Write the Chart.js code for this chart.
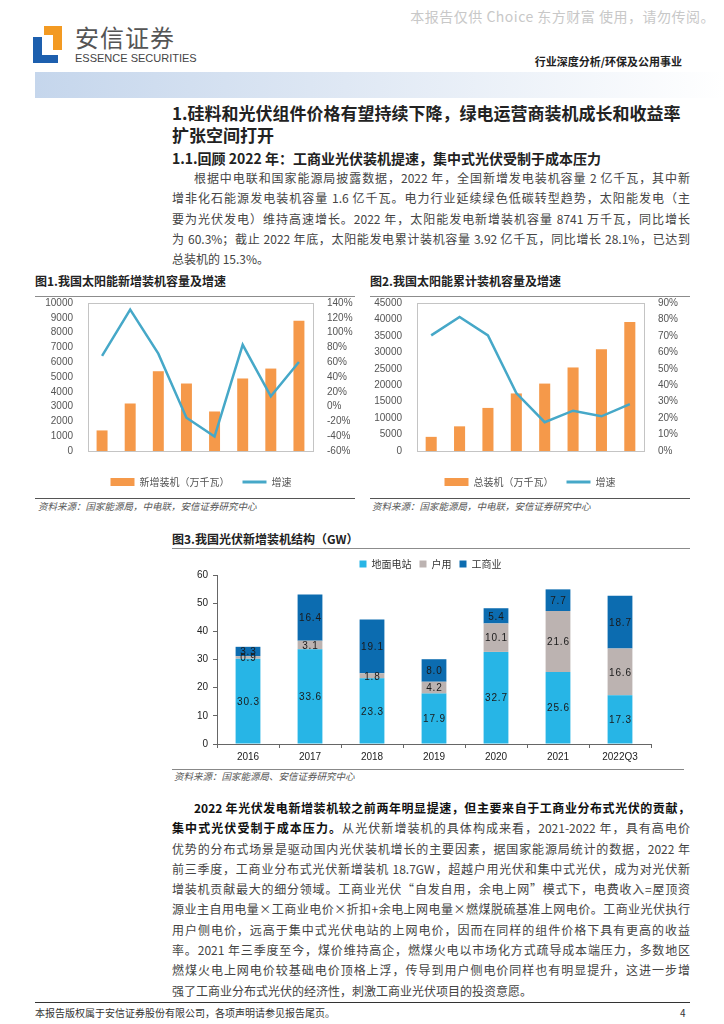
<!DOCTYPE html>
<html lang="zh-CN">
<head>
<meta charset="UTF-8">
<title>安信证券 行业深度分析</title>
<script src="https://cdn.jsdelivr.net/npm/chart.js"></script>
<style>
  body { margin:0; background:#fff; font-family:"Noto Sans CJK SC", sans-serif; color:#3a3a3a; }
  .page { position:relative; width:724px; height:1024px; overflow:hidden; background:#fff; }
  .abs { position:absolute; white-space:nowrap; }
  .wm { right:9px; top:6px; font-size:14px; color:#c8c8c8; letter-spacing:0.5px; }
  .brand { left:75px; top:22px; font-size:24px; color:#555; letter-spacing:1px; line-height:30px; }
  .brand-en { left:75px; top:51px; font-family:"Liberation Sans Narrow","Liberation Sans",sans-serif; font-size:11px; color:#444; line-height:14px; }
  .sector { right:42px; top:53px; font-size:11px; font-weight:bold; color:#222; line-height:16px; }
  .banner { left:35px; top:72px; width:689px; height:26px; background:linear-gradient(to right,#c5d6ec 0%,#dfe8f4 45%,#ffffff 100%); }
  .h1 { left:172px; font-size:17px; font-weight:bold; color:#222; line-height:22px; }
  .h2 { left:172px; top:147px; font-size:14px; font-weight:bold; color:#222; line-height:22px; }
  .para { position:absolute; left:172px; width:518px; font-size:12px; color:#444; }
  .para div { height:20.3px; line-height:20.3px; text-align:justify; text-align-last:justify; white-space:nowrap; }
  .para div.first { padding-left:22px; }
  .para div.last { text-align-last:left; }
  .para b { color:#111; }
  .figt { font-size:12px; font-weight:bold; color:#222; line-height:16px; }
  .rule { position:absolute; height:0; }
  .src { font-size:9.5px; font-style:italic; color:#555; line-height:12px; }
  .foot { font-size:10px; color:#333; line-height:14px; }
  canvas { position:absolute; }
</style>
</head>
<body>
<div class="page">
  <div class="abs wm">本报告仅供 Choice 东方财富 使用，请勿传阅。</div>

  <!-- logo -->
  <div class="abs" style="left:44px;top:26px;width:18px;height:9px;background:#f39a22;"></div>
  <div class="abs" style="left:53px;top:26px;width:9px;height:24px;background:#f39a22;"></div>
  <div class="abs" style="left:33px;top:37px;width:9px;height:26px;background:#1d5fae;"></div>
  <div class="abs" style="left:33px;top:55px;width:25px;height:8px;background:#1d5fae;"></div>
  <div class="abs brand">安信证券</div>
  <div class="abs brand-en">ESSENCE SECURITIES</div>
  <div class="abs sector">行业深度分析/环保及公用事业</div>
  <div class="abs banner"></div>

  <div class="abs h1" style="top:102px;">1.硅料和光伏组件价格有望持续下降，绿电运营商装机成长和收益率</div>
  <div class="abs h1" style="top:124px;">扩张空间打开</div>
  <div class="abs h2">1.1.回顾 2022 年：工商业光伏装机提速，集中式光伏受制于成本压力</div>

  <div class="para" style="top:168px;">
    <div class="first">根据中电联和国家能源局披露数据，2022 年，全国新增发电装机容量 2 亿千瓦，其中新</div>
    <div>增非化石能源发电装机容量 1.6 亿千瓦。电力行业延续绿色低碳转型趋势，太阳能发电（主</div>
    <div>要为光伏发电）维持高速增长。2022 年，太阳能发电新增装机容量 8741 万千瓦，同比增长</div>
    <div>为 60.3%；截止 2022 年底，太阳能发电累计装机容量 3.92 亿千瓦，同比增长 28.1%，已达到</div>
    <div class="last">总装机的 15.3%。</div>
  </div>

  <!-- figure 1 / 2 -->
  <div class="abs figt" style="left:35px;top:273px;">图1.我国太阳能新增装机容量及增速</div>
  <div class="rule" style="left:35px;top:296px;width:320px;border-top:1px solid #8c8c8c;"></div>
  <div class="abs figt" style="left:370px;top:273px;">图2.我国太阳能累计装机容量及增速</div>
  <div class="rule" style="left:370px;top:296px;width:320px;border-top:1px solid #8c8c8c;"></div>

  <canvas id="chartNew" width="332" height="207" style="left:35px;top:290px;"></canvas>
  <canvas id="chartTotal" width="320" height="207" style="left:370px;top:290px;"></canvas>

  <div class="rule" style="left:35px;top:498px;width:320px;border-top:1.5px solid #555;"></div>
  <div class="abs src" style="left:38px;top:500px;">资料来源：国家能源局，中电联，安信证券研究中心</div>
  <div class="rule" style="left:370px;top:498px;width:320px;border-top:1.5px solid #555;"></div>
  <div class="abs src" style="left:372px;top:500px;">资料来源：国家能源局，中电联，安信证券研究中心</div>

  <!-- figure 3 -->
  <div class="abs figt" style="left:172px;top:531px;">图3.我国光伏新增装机结构（GW）</div>
  <div class="rule" style="left:172px;top:548px;width:518px;border-top:1px solid #8c8c8c;"></div>
  <canvas id="chartMix" width="517" height="216" style="left:172px;top:551px;"></canvas>
  <div class="rule" style="left:172px;top:769px;width:512px;border-top:1.5px solid #888;"></div>
  <div class="abs src" style="left:174px;top:770px;">资料来源：国家能源局、安信证券研究中心</div>

  <div class="para" style="top:798px;">
    <div class="first"><b>2022 年光伏发电新增装机较之前两年明显提速，但主要来自于工商业分布式光伏的贡献，</b></div>
    <div><b>集中式光伏受制于成本压力。</b>从光伏新增装机的具体构成来看，2021-2022 年，具有高电价</div>
    <div>优势的分布式场景是驱动国内光伏装机增长的主要因素，据国家能源局统计的数据，2022 年</div>
    <div>前三季度，工商业分布式光伏新增装机 18.7GW，超越户用光伏和集中式光伏，成为对光伏新</div>
    <div>增装机贡献最大的细分领域。工商业光伏“自发自用，余电上网”模式下，电费收入=屋顶资</div>
    <div>源业主自用电量×工商业电价×折扣+余电上网电量×燃煤脱硫基准上网电价。工商业光伏执行</div>
    <div>用户侧电价，远高于集中式光伏电站的上网电价，因而在同样的组件价格下具有更高的收益</div>
    <div>率。2021 年三季度至今，煤价维持高企，燃煤火电以市场化方式疏导成本端压力，多数地区</div>
    <div>燃煤火电上网电价较基础电价顶格上浮，传导到用户侧电价同样也有明显提升，这进一步增</div>
    <div class="last">强了工商业分布式光伏的经济性，刺激工商业光伏项目的投资意愿。</div>
  </div>

  <div class="rule" style="left:35px;top:1002px;width:655px;border-top:1.5px solid #333;"></div>
  <div class="abs foot" style="left:35px;top:1006px;">本报告版权属于安信证券股份有限公司，各项声明请参见报告尾页。</div>
  <div class="abs foot" style="left:680px;top:1006px;">4</div>
</div>

<script>
  // 图1 / 图2 数据
  const years = ['2015', '2016', '2017', '2018', '2019', '2020', '2021', '2022'];
  const newCap = [1390, 3210, 5390, 4560, 2670, 4900, 5570, 8800];     // 万千瓦
  const newGrowth = [68.5, 131, 71.5, -15, -40.5, 83.5, 14, 60.3];      // %
  const totalCap = [4300, 7500, 13100, 17500, 20500, 25400, 30900, 39200];
  const totalGrowth = [70.3, 81.5, 70.3, 35.2, 17.5, 24.5, 21.1, 28.5];

  // 图3 数据
  const mixYears = ['2016', '2017', '2018', '2019', '2020', '2021', '2022Q3'];
  const groundGW = [30.3, 33.6, 23.3, 17.9, 32.7, 25.6, 17.3];
  const homeGW = [0.9, 3.1, 1.8, 4.2, 10.1, 21.6, 16.6];
  const ciGW = [3.3, 16.4, 19.1, 8.0, 5.4, 7.7, 18.7];

  const ORANGE = '#f5994a';
  const TEAL = '#46a8c8';
  const tickFont = { family: 'Liberation Sans, Arial, sans-serif', size: 10 };
  const cjkFont = { family: 'Noto Sans CJK SC, sans-serif', size: 10 };

  // 画图区外框
  const frame = {
    id: 'frame',
    beforeDatasetsDraw(chart) {
      const a = chart.chartArea, c = chart.ctx;
      c.save();
      c.strokeStyle = '#c4c4c4';
      c.lineWidth = 1;
      c.strokeRect(Math.round(a.left) + 0.5, Math.round(a.top) + 0.5, Math.round(a.right - a.left), Math.round(a.bottom - a.top));
      c.restore();
    }
  };

  function legendItems(chart) {
    const items = Chart.defaults.plugins.legend.labels.generateLabels(chart);
    items.forEach(it => {
      const ds = chart.data.datasets[it.datasetIndex];
      if (ds.type === 'line') {
        it.pointStyle = 'line';
        it.strokeStyle = ds.borderColor;
        it.lineWidth = 3;
      } else {
        it.pointStyle = 'rect';
        it.lineWidth = 0;
      }
    });
    return items;
  }

  function comboChart(id, barLabel, bars, growth, leftMax, leftStep, rightMin, rightMax, rightStep, sizes) {
    return new Chart(document.getElementById(id), {
      type: 'bar',
      data: {
        labels: years,
        datasets: [
          { type: 'bar', label: barLabel, data: bars, backgroundColor: ORANGE, yAxisID: 'y',
            barPercentage: 0.39, categoryPercentage: 1, order: 2 },
          { type: 'line', label: '增速', data: growth, borderColor: TEAL, backgroundColor: TEAL,
            borderWidth: 2.5, pointRadius: 0, tension: 0, yAxisID: 'y1', order: 1 }
        ]
      },
      options: {
        responsive: false,
        animation: false,
        layout: { padding: 0 },
        plugins: {
          tooltip: { enabled: false },
          legend: {
            position: 'bottom',
            labels: {
              usePointStyle: true, pointStyleWidth: 24, boxHeight: 8,
              padding: 13, color: '#555', font: cjkFont,
              generateLabels: legendItems,
              sort: (a, b) => a.datasetIndex - b.datasetIndex
            }
          }
        },
        scales: {
          x: {
            grid: { display: false },
            border: { display: false },
            ticks: { color: '#444', font: tickFont, padding: 4, maxRotation: 0, autoSkip: false },
            afterFit(s) { s.height = 13; }
          },
          y: {
            position: 'left', min: 0, max: leftMax,
            grid: { display: false }, border: { display: false },
            ticks: { stepSize: leftStep, autoSkip: false, color: '#555', font: tickFont, padding: 7, callback: v => String(v) },
            afterFit(s) { s.width = sizes.left; }
          },
          y1: {
            position: 'right', min: rightMin, max: rightMax,
            grid: { display: false }, border: { display: false },
            ticks: { stepSize: rightStep, autoSkip: false, color: '#555', font: tickFont, padding: 6, callback: v => v + '%' },
            afterFit(s) { s.width = sizes.right; }
          }
        }
      },
      plugins: [frame]
    });
  }

  comboChart('chartNew', '新增装机（万千瓦）', newCap, newGrowth, 10000, 1000, -60, 140, 20,
    { left: 53, right: 54 });
  comboChart('chartTotal', '总装机（万千瓦）', totalCap, totalGrowth, 45000, 5000, 0, 90, 10,
    { left: 47, right: 46 });

  // 堆积柱内数值标签
  const segLabels = {
    id: 'segLabels',
    afterDatasetsDraw(chart) {
      const c = chart.ctx;
      c.save();
      c.font = '10px "Liberation Sans", Arial, sans-serif';
      c.fillStyle = '#1a1a1a';
      c.textAlign = 'center';
      c.textBaseline = 'middle';
      chart.data.datasets.forEach((ds, i) => {
        chart.getDatasetMeta(i).data.forEach((bar, j) => {
          const p = bar.getProps(['x', 'y', 'base'], true);
          c.fillText(ds.data[j].toFixed(1).split('').join(String.fromCharCode(8202)), p.x, (p.y + p.base) / 2 + 1);
        });
      });
      c.restore();
    }
  };

  new Chart(document.getElementById('chartMix'), {
    type: 'bar',
    data: {
      labels: mixYears,
      datasets: [
        { label: '地面电站', data: groundGW, backgroundColor: '#27b5e6' },
        { label: '户用', data: homeGW, backgroundColor: '#bcb3b1' },
        { label: '工商业', data: ciGW, backgroundColor: '#0c6cb0' }
      ]
    },
    options: {
      responsive: false,
      animation: false,
      datasets: { bar: { barPercentage: 0.4, categoryPercentage: 1 } },
      layout: { padding: 0 },
      plugins: {
        tooltip: { enabled: false },
        legend: {
          position: 'top',
          maxHeight: 24,
          labels: { boxWidth: 7, boxHeight: 7, padding: 8, color: '#333', font: { family: 'Noto Sans CJK SC, sans-serif', size: 10 } }
        }
      },
      scales: {
        x: {
          stacked: true,
          grid: { display: true, drawOnChartArea: false, drawTicks: true, tickLength: 4, color: '#666', offset: true },
          border: { display: true, color: '#666' },
          ticks: { color: '#222', font: tickFont, padding: 3, autoSkip: false, maxRotation: 0 },
          afterFit(s) { s.height = 23; }
        },
        y: {
          stacked: true, min: 0, max: 60,
          grid: { display: true, drawOnChartArea: false, drawTicks: true, tickLength: 4, color: '#666' },
          border: { display: true, color: '#666' },
          ticks: { stepSize: 10, color: '#222', font: tickFont, padding: 5 },
          afterFit(s) { s.width = 45; }
        },
        // 右侧留白
        yPad: {
          position: 'right', display: true,
          grid: { display: false }, border: { display: false }, ticks: { display: false },
          afterFit(s) { s.width = 38; }
        }
      }
    },
    plugins: [segLabels]
  });
</script>
</body>
</html>
